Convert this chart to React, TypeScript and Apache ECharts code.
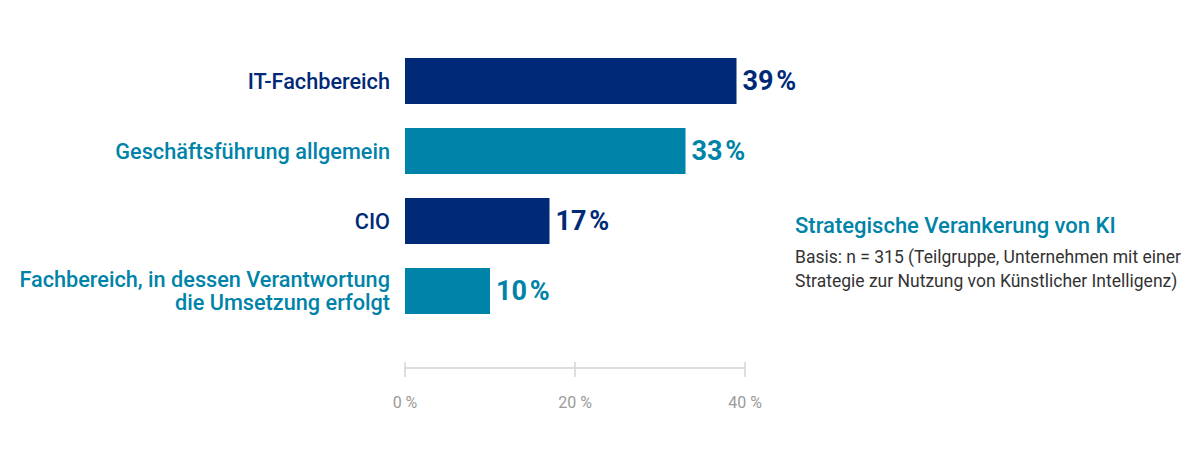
import React, { useEffect, useRef } from "react";
import * as echarts from "echarts";

const categories = [
  "IT-Fachbereich",
  "Geschäftsführung allgemein",
  "CIO",
  "Fachbereich, in dessen Verantwortung\ndie Umsetzung erfolgt",
];
const values = [39, 33, 17, 10];
const colorKeys = ["navy", "teal", "navy", "teal"];
const xTicks = [0, 20, 40];
const title = "Strategische Verankerung von KI";
const subtitle = "Basis: n = 315 (Teilgruppe, Unternehmen mit einer\nStrategie zur Nutzung von Künstlicher Intelligenz)";

const NAVY = "#002a77";
const TEAL = "#0083a8";
const colorOf = (k: string) => (k === "navy" ? NAVY : TEAL);

export default function App() {
  const ref = useRef<HTMLDivElement>(null);
  useEffect(() => {
    if (!ref.current) return;
    const chart = echarts.init(ref.current, undefined, { renderer: "svg" });
    const font = "Roboto";
    chart.setOption({
      animation: false,
      textStyle: { fontFamily: font },
      grid: { left: 405, right: 1200 - 745, top: 46, bottom: 141, containLabel: false },
      xAxis: [
        {
          type: "value",
          min: xTicks[0],
          max: xTicks[xTicks.length - 1],
          interval: 20,
          offset: 42,
          axisLine: { show: true, lineStyle: { color: "#d4d4d4", width: 1.5 } },
          axisTick: { show: true, length: 9, lineStyle: { color: "#d4d4d4", width: 1.5 } },
          splitLine: { show: false },
          axisLabel: {
            margin: 26,
            color: "#9a9a9a",
            fontSize: 16,
            fontFamily: font,
            formatter: (v: number) => v + " %",
          },
        },
        {
          type: "value",
          position: "bottom",
          min: xTicks[0],
          max: xTicks[xTicks.length - 1],
          interval: 20,
          offset: 42,
          axisLine: { show: false },
          axisTick: { show: true, inside: true, length: 6, lineStyle: { color: "#d4d4d4", width: 1.5 } },
          splitLine: { show: false },
          axisLabel: { show: false },
        },
      ],
      yAxis: {
        type: "category",
        inverse: true,
        data: categories,
        axisLine: { show: false },
        axisTick: { show: false },
        axisLabel: {
          margin: 15,
          align: "right",
          formatter: (v: string) => {
            const i = categories.indexOf(v);
            const key = colorKeys[i];
            return v
              .split("\n")
              .map((line) => `{${key}|${line}}`)
              .join("\n");
          },
          rich: {
            navy: { color: NAVY, fontSize: 21.7, fontWeight: 500, fontFamily: font, lineHeight: 23 },
            teal: { color: TEAL, fontSize: 21.7, fontWeight: 500, fontFamily: font, lineHeight: 23 },
          },
        },
      },
      series: [
        {
          type: "bar",
          barWidth: 46,
          data: values.map((v, i) => ({
            value: v,
            itemStyle: { color: colorOf(colorKeys[i]) },
            label: { color: colorOf(colorKeys[i]) },
          })),
          label: {
            show: true,
            position: "right",
            distance: 6,
            fontSize: 27,
            fontWeight: "bold",
            fontFamily: font,
            formatter: (p: any) => p.value + "\u200a%",
          },
        },
      ],
      graphic: [
        {
          type: "text",
          left: 795,
          top: 214,
          style: { text: title, fill: TEAL, fontSize: 22, fontWeight: 500, fontFamily: font },
        },
        {
          type: "text",
          left: 795,
          top: 245,
          style: { text: subtitle, fill: "#333333", fontSize: 17.5, lineHeight: 24, fontFamily: font },
        },
      ],
    });
    return () => chart.dispose();
  }, []);
  return (
    <div
      ref={ref}
      style={{ position: "absolute", left: 0, top: 0, width: 1200, height: 467, background: "#fff" }}
    />
  );
}
